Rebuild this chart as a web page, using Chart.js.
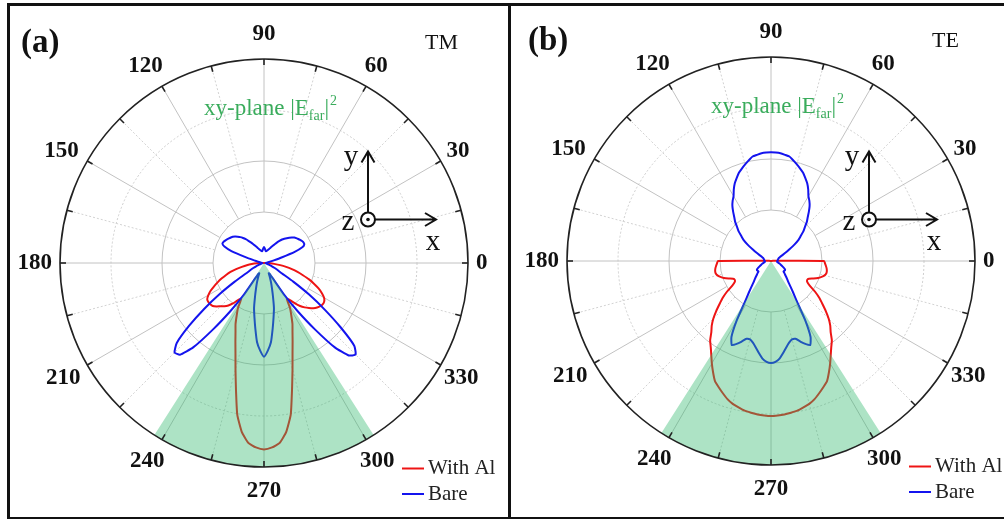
<!DOCTYPE html>
<html>
<head>
<meta charset="utf-8">
<script src="https://cdn.jsdelivr.net/npm/chart.js@4.4.1/dist/chart.umd.min.js"></script>
<style>
html, body { margin: 0; padding: 0; background: #fff; width: 1004px; height: 519px; overflow: hidden; }
#frame { position: absolute; left: 7px; top: 3px; width: 1010px; height: 511px; border: 3px solid #111; }
#divider { position: absolute; left: 508px; top: 3px; width: 3px; height: 517px; background: #111; }
canvas { position: absolute; }
#tm { left: 14px; top: 13px; }
#te { left: 521px; top: 11px; }
</style>
</head>
<body>
<div id="frame"></div>
<div id="divider"></div>
<canvas id="tm" width="500" height="500"></canvas>
<canvas id="te" width="500" height="500"></canvas>
<script>
// polar angles in degrees, counter-clockwise from +x, 2.5 deg apart
const angles = [
  0, 2.5, 5, 7.5, 10, 12.5, 15, 17.5, 20, 22.5, 25, 27.5,
  30, 32.5, 35, 37.5, 40, 42.5, 45, 47.5, 50, 52.5, 55, 57.5,
  60, 62.5, 65, 67.5, 70, 72.5, 75, 77.5, 80, 82.5, 85, 87.5,
  90, 92.5, 95, 97.5, 100, 102.5, 105, 107.5, 110, 112.5, 115, 117.5,
  120, 122.5, 125, 127.5, 130, 132.5, 135, 137.5, 140, 142.5, 145, 147.5,
  150, 152.5, 155, 157.5, 160, 162.5, 165, 167.5, 170, 172.5, 175, 177.5,
  180, 182.5, 185, 187.5, 190, 192.5, 195, 197.5, 200, 202.5, 205, 207.5,
  210, 212.5, 215, 217.5, 220, 222.5, 225, 227.5, 230, 232.5, 235, 237.5,
  240, 242.5, 245, 247.5, 250, 252.5, 255, 257.5, 260, 262.5, 265, 267.5,
  270, 272.5, 275, 277.5, 280, 282.5, 285, 287.5, 290, 292.5, 295, 297.5,
  300, 302.5, 305, 307.5, 310, 312.5, 315, 317.5, 320, 322.5, 325, 327.5,
  330, 332.5, 335, 337.5, 340, 342.5, 345, 347.5, 350, 352.5, 355, 357.5
];

const angleTicks = [0, 30, 60, 90, 120, 150, 180, 210, 240, 270, 300, 330];
const ringValues = [0.25, 0.5, 0.75, 1];
const sectorFrom = 237.5;
const sectorTo = 302.5;

// (a) TM, normalised |E|^2 (outer ring = 1)
const tmWithAl = [
  .015, .008, .004, 0, 0, 0, 0, 0, 0, 0, 0, 0,
  0, 0, 0, 0, 0, 0, 0, 0, 0, 0, 0, 0,
  0, 0, 0, 0, 0, 0, 0, 0, 0, 0, 0, 0,
  0, 0, 0, 0, 0, 0, 0, 0, 0, 0, 0, 0,
  0, 0, 0, 0, 0, 0, 0, 0, 0, 0, 0, 0,
  0, 0, 0, 0, 0, 0, 0, 0, 0, 0, .004, .008,
  .015, .035, .06, .085, .11, .14, .17, .195, .22, .245, .27, .295,
  .315, .33, .333, .332, .328, .315, .30, .288, .272, .25, .222, .208,
  .255, .29, .33, .365, .41, .465, .54, .635, .755, .835, .885, .905,
  .914, .905, .885, .835, .755, .635, .54, .465, .41, .365, .33, .29,
  .255, .208, .222, .25, .275, .295, .312, .328, .34, .348, .352, .35,
  .34, .32, .295, .265, .235, .20, .17, .14, .11, .08, .05, .03
];
const tmBare = [
  .01, .01, .012, .015, .02, .03, .05, .09, .16, .205, .218, .218,
  .215, .21, .205, .20, .195, .185, .175, .165, .155, .145, .132, .12,
  .108, .097, .088, .08, .073, .068, .064, .06, .058, .06, .066, .073,
  .078, .073, .066, .06, .058, .06, .064, .068, .073, .08, .088, .097,
  .108, .12, .133, .147, .16, .172, .182, .192, .20, .205, .21, .215,
  .22, .224, .225, .21, .17, .095, .05, .03, .02, .015, .012, .01,
  .01, .008, .008, .008, .01, .012, .015, .02, .03, .042, .058, .075,
  .10, .17, .265, .37, .48, .58, .62, .61, .54, .41, .29, .19,
  .09, .06, .055, .075, .10, .13, .17, .225, .27, .325, .39, .43,
  .46, .43, .39, .325, .27, .225, .17, .13, .10, .075, .055, .06,
  .09, .19, .29, .41, .54, .615, .635, .60, .49, .375, .27, .17,
  .10, .075, .058, .042, .03, .02, .015, .012, .01, .008, .008, .008
];

// (b) TE
const teWithAl = [
  .26, .02, .01, 0, 0, 0, 0, 0, 0, 0, 0, 0,
  0, 0, 0, 0, 0, 0, 0, 0, 0, 0, 0, 0,
  0, 0, 0, 0, 0, 0, 0, 0, 0, 0, 0, 0,
  0, 0, 0, 0, 0, 0, 0, 0, 0, 0, 0, 0,
  0, 0, 0, 0, 0, 0, 0, 0, 0, 0, 0, 0,
  0, 0, 0, 0, 0, 0, 0, 0, 0, 0, .01, .02,
  .26, .265, .27, .275, .278, .278, .272, .26, .245, .225, .205, .20,
  .205, .225, .265, .30, .33, .365, .40, .43, .455, .49, .515, .545,
  .58, .615, .65, .67, .69, .71, .725, .735, .745, .75, .755, .758,
  .76, .758, .755, .75, .745, .735, .725, .71, .69, .67, .65, .615,
  .58, .545, .515, .49, .455, .43, .40, .365, .33, .30, .265, .225,
  .205, .20, .205, .225, .245, .26, .272, .278, .278, .275, .27, .265
];
const teBare = [
  .033, .033, .033, .033, .034, .035, .036, .038, .04, .045, .05, .065,
  .085, .107, .14, .17, .19, .215, .235, .26, .28, .305, .33, .35,
  .367, .395, .42, .44, .46, .475, .49, .505, .52, .525, .53, .532,
  .533, .532, .53, .525, .52, .505, .49, .475, .46, .44, .42, .395,
  .367, .35, .33, .305, .28, .26, .235, .215, .19, .17, .14, .107,
  .085, .065, .05, .045, .04, .038, .036, .035, .034, .033, .033, .033,
  .033, .03, .03, .03, .032, .035, .04, .045, .05, .055, .062, .07,
  .078, .082, .082, .08, .08, .09, .10, .115, .13, .155, .19, .24,
  .335, .42, .455, .44, .42, .40, .398, .41, .43, .455, .48, .495,
  .50, .495, .48, .455, .43, .41, .398, .40, .42, .44, .455, .42,
  .335, .24, .19, .155, .13, .115, .10, .09, .08, .08, .082, .082,
  .078, .07, .062, .055, .05, .045, .04, .035, .032, .03, .03, .03
];

const red = '#ee1414';
const blue = '#1414ee';
const sectorColor = 'rgba(50, 185, 110, 0.4)';
const serif = '"Liberation Serif", "Times New Roman", serif';

// radar goes clockwise, so feed the points in reverse to get counter-clockwise angles
const N = angles.length;
const order = angles.map((a, i) => (N - i) % N);
function ccw(arr) {
  return order.map(i => arr[i]);
}
const sector = angles.map(a => (a >= sectorFrom && a <= sectorTo ? 1 : 0));

const polarDecor = {
  id: 'polarDecor',
  beforeDatasetsDraw(chart) {
    const s = chart.scales.r;
    const ctx = chart.ctx;
    const cx = s.xCenter, cy = s.yCenter;
    const r0 = s.getDistanceFromCenterForValue(ringValues[0]);
    const R = s.getDistanceFromCenterForValue(1);
    ctx.save();
    ctx.lineWidth = 1;
    ringValues.slice(0, -1).forEach(v => {
      ctx.strokeStyle = v === 0.75 ? '#cdcdcd' : '#c2c2c2';
      ctx.setLineDash(v === 0.75 ? [2, 2] : []);
      ctx.beginPath();
      ctx.arc(cx, cy, s.getDistanceFromCenterForValue(v), 0, 2 * Math.PI);
      ctx.stroke();
    });
    angleTicks.forEach(a => {
      [a, a + 15].forEach((b, k) => {
        const t = b * Math.PI / 180;
        ctx.strokeStyle = k === 0 ? '#c2c2c2' : '#d2d2d2';
        ctx.setLineDash(k === 0 ? [] : [2, 2]);
        ctx.beginPath();
        ctx.moveTo(cx + r0 * Math.cos(t), cy - r0 * Math.sin(t));
        ctx.lineTo(cx + R * Math.cos(t), cy - R * Math.sin(t));
        ctx.stroke();
      });
    });
    ctx.restore();
  },
  afterDatasetsDraw(chart, args, o) {
    const s = chart.scales.r;
    const ctx = chart.ctx;
    const cx = s.xCenter, cy = s.yCenter;
    const R = s.getDistanceFromCenterForValue(1);
    ctx.save();

    // outer circle and ticks
    ctx.strokeStyle = '#222';
    ctx.lineWidth = 1.6;
    ctx.beginPath();
    ctx.arc(cx, cy, R, 0, 2 * Math.PI);
    ctx.stroke();
    angleTicks.forEach(a => {
      [a, a + 15].forEach(b => {
        const t = b * Math.PI / 180;
        ctx.beginPath();
        ctx.moveTo(cx + R * Math.cos(t), cy - R * Math.sin(t));
        ctx.lineTo(cx + (R - 6) * Math.cos(t), cy - (R - 6) * Math.sin(t));
        ctx.stroke();
      });
    });

    // angle labels
    ctx.fillStyle = '#111';
    ctx.font = 'bold 23px ' + serif;
    ctx.textAlign = 'center';
    ctx.textBaseline = 'middle';
    angleTicks.forEach(a => {
      const t = a * Math.PI / 180;
      const c = Math.cos(t), sn = Math.sin(t);
      const txt = String(a);
      const w = ctx.measureText(txt).width;
      const g = 8 + (sn > 0 ? 9 : 5) * Math.abs(sn);
      let x = cx + (R + g) * c + (w / 2) * c;
      let y = cy - (R + g) * sn - 7.5 * sn;
      if (c > 0.1) x -= 4 * Math.abs(Math.sin(2 * t));
      if (sn < -0.1) y += 4;
      ctx.fillText(txt, x, y);
    });

    // panel letter and polarisation
    ctx.textAlign = 'left';
    ctx.font = 'bold 33px ' + serif;
    ctx.fillText(o.letter, cx - 243, cy - 220);
    ctx.font = '22px ' + serif;
    ctx.fillText(o.mode, cx + 161, cy - 220);

    // green title
    ctx.fillStyle = '#3aac5c';
    ctx.textBaseline = 'alphabetic';
    let x = cx - 60;
    const y = cy - 148;
    ctx.font = '23px ' + serif;
    ctx.fillText('xy-plane |E', x, y);
    x += ctx.measureText('xy-plane |E').width;
    ctx.font = '14px ' + serif;
    ctx.fillText('far', x, y + 5);
    x += ctx.measureText('far').width;
    ctx.font = '23px ' + serif;
    ctx.fillText('|', x, y);
    x += ctx.measureText('|').width + 1;
    ctx.font = '14px ' + serif;
    ctx.fillText('2', x, y - 10);

    // coordinate icon
    const ix = cx + o.iconDx, iy = cy + o.iconDy;
    ctx.strokeStyle = '#111';
    ctx.fillStyle = '#111';
    ctx.lineWidth = 2;
    ctx.beginPath();
    ctx.arc(ix, iy, 7, 0, 2 * Math.PI);
    ctx.stroke();
    ctx.beginPath();
    ctx.arc(ix, iy, 1.8, 0, 2 * Math.PI);
    ctx.fill();
    ctx.beginPath();
    ctx.moveTo(ix, iy - 7);
    ctx.lineTo(ix, iy - 68);
    ctx.moveTo(ix - 6.5, iy - 57);
    ctx.lineTo(ix, iy - 68);
    ctx.lineTo(ix + 6.5, iy - 57);
    ctx.moveTo(ix + 7, iy);
    ctx.lineTo(ix + 68, iy);
    ctx.moveTo(ix + 57, iy - 6.5);
    ctx.lineTo(ix + 68, iy);
    ctx.lineTo(ix + 57, iy + 6.5);
    ctx.stroke();
    ctx.font = '29px ' + serif;
    ctx.textAlign = 'center';
    ctx.fillText('y', ix - 17, iy - 55);
    ctx.fillText('z', ix - 20, iy + 10);
    ctx.fillText('x', ix + 65, iy + 30);

    // legend
    const items = chart.data.datasets.filter(d => d.label !== 'sector').reverse();
    ctx.textAlign = 'left';
    ctx.textBaseline = 'middle';
    ctx.font = '21px ' + serif;
    items.forEach((d, i) => {
      const ly = cy + 205.5 + i * 25.5;
      ctx.strokeStyle = d.borderColor;
      ctx.lineWidth = 2;
      ctx.beginPath();
      ctx.moveTo(cx + 138, ly);
      ctx.lineTo(cx + 160, ly);
      ctx.stroke();
      ctx.fillStyle = '#222';
      ctx.fillText(d.label, cx + 164, ly);
    });
    ctx.restore();
  }
};

function makeChart(id, withAl, bare, decor) {
  return new Chart(document.getElementById(id), {
    type: 'radar',
    data: {
      labels: ccw(angles),
      datasets: [
        {
          label: 'sector',
          data: ccw(sector),
          fill: 'origin',
          backgroundColor: sectorColor,
          borderColor: 'rgba(0,0,0,0)',
          borderWidth: 0,
          pointRadius: 0,
          tension: 0,
          order: 0
        },
        {
          label: 'Bare',
          data: ccw(bare),
          borderColor: blue,
          borderWidth: 2,
          fill: false,
          pointRadius: 0,
          tension: 0.15,
          order: 1
        },
        {
          label: 'With Al',
          data: ccw(withAl),
          borderColor: red,
          borderWidth: 2,
          fill: false,
          pointRadius: 0,
          tension: 0.15,
          order: 2
        }
      ]
    },
    options: {
      responsive: false,
      animation: false,
      layout: { padding: 46 },
      scales: {
        r: {
          min: 0,
          max: 1,
          startAngle: 90,
          grid: { display: false },
          angleLines: { display: false },
          ticks: { display: false },
          pointLabels: { display: false }
        }
      },
      plugins: {
        legend: { display: false },
        tooltip: { enabled: false },
        polarDecor: decor
      }
    },
    plugins: [polarDecor]
  });
}

makeChart('tm', tmWithAl, tmBare, { letter: '(a)', mode: 'TM', iconDx: 104, iconDy: -43.5 });
makeChart('te', teWithAl, teBare, { letter: '(b)', mode: 'TE', iconDx: 98, iconDy: -41.5 });
</script>
</body>
</html>
